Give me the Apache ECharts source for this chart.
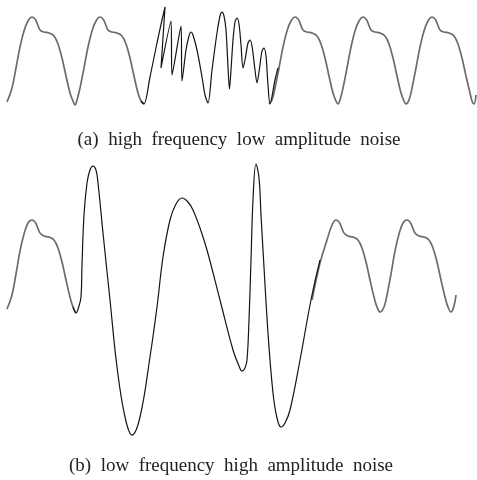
<!DOCTYPE html>
<html>
<head>
<meta charset="utf-8">
<script src="https://cdn.jsdelivr.net/npm/echarts@6/dist/echarts.min.js"></script>
<style>
html,body{margin:0;padding:0;background:#fff;}
#chart{width:477px;height:480px;}
</style>
</head>
<body>
<div id="chart"></div>
<script>
// ---- Panel (a): high frequency low amplitude noise ----
// time (samples) and amplitude
var aClean1T = [0,5,9,13,17,21,25,28,30,33,37,42,47,51,55,59,63,66,68,70,73,77,81,85,89,93,96,98,101,105,110,115,119,123,127,131,134,137];
var aClean1V = [0.02,0.16,0.36,0.57,0.73,0.83,0.87,0.85,0.81,0.74,0.72,0.71,0.68,0.60,0.46,0.28,0.11,0.03,-0.01,0.04,0.16,0.36,0.57,0.73,0.83,0.87,0.85,0.81,0.74,0.72,0.71,0.68,0.60,0.46,0.28,0.11,0.03,0.00];
var aNoiseT = [134,137,143,150,155,158,154,164,165,174,175,179,182,184,186,190,195,198,201,205,210,213,215,217,219,221,222.5,224,226,228,230,232,234,236,238,241,243,245,248,250,252,255,257,259,261,263,268,271];
var aNoiseV = [0.03,0.00,0.27,0.61,0.84,0.97,0.36,0.83,0.29,0.78,0.23,0.54,0.68,0.72,0.69,0.54,0.27,0.09,0.01,0.34,0.71,0.88,0.92,0.88,0.74,0.37,0.15,0.34,0.64,0.82,0.86,0.80,0.59,0.36,0.44,0.61,0.64,0.58,0.34,0.21,0.32,0.53,0.56,0.48,0.19,0.00,0.24,0.36];
var aClean2T = [262,265,268,272,276,280,284,288,291,293,296,300,305,310,314,318,322,326,329,331,333,336,340,344,348,352,356,359,361,364,368,373,378,382,386,390,394,397,399,402,405,409,413,417,421,425,428,430,433,437,442,447,451,455,459,463,465,467,469];
var aClean2V = [0.00,0.04,0.16,0.36,0.57,0.73,0.83,0.87,0.85,0.81,0.74,0.72,0.71,0.68,0.60,0.46,0.28,0.11,0.03,0.00,0.04,0.16,0.36,0.57,0.73,0.83,0.87,0.85,0.81,0.74,0.72,0.71,0.68,0.60,0.46,0.28,0.11,0.03,0.00,0.04,0.16,0.36,0.57,0.73,0.83,0.87,0.85,0.81,0.74,0.72,0.71,0.68,0.60,0.46,0.28,0.11,0.03,0.00,0.09];

// ---- Panel (b): low frequency high amplitude noise ----
var bClean1T = [0,5,9,13,17,21,25,28,30,33,37,42,47,51,55,59,63,66,69];
var bClean1V = [0.03,0.17,0.38,0.61,0.78,0.89,0.92,0.90,0.86,0.79,0.76,0.75,0.72,0.64,0.50,0.32,0.15,0.05,-0.01];
var bNoiseT = [66,69,72,74,75,77,80,83,86,89,91,96,103,110,118,125,133,143,150,156,163,169,175,181,186,193,200,213,226,232,235,238,240,242,244,246,249,252,254,256,261,266,270,274,278,283,293,304,313];
var bNoiseV = [0.05,-0.01,0.06,0.15,0.47,0.97,1.29,1.42,1.46,1.42,1.29,0.79,0.12,-0.55,-1.05,-1.23,-1.05,-0.45,0.05,0.55,0.92,1.08,1.14,1.10,1.02,0.84,0.62,0.12,-0.38,-0.54,-0.59,-0.56,-0.48,-0.08,0.52,1.12,1.48,1.34,0.97,0.62,-0.21,-0.81,-1.06,-1.15,-1.11,-0.98,-0.48,0.12,0.52];
var bClean2T = [305,313,320,325,329,332,334,337,341,346,351,355,359,363,367,370,373,377,380,384,388,392,396,400,403,405,408,412,417,422,426,430,434,438,441,444,447,449];
var bClean2V = [0.12,0.49,0.72,0.87,0.92,0.90,0.86,0.79,0.76,0.75,0.72,0.64,0.50,0.32,0.15,0.05,0.00,0.05,0.17,0.38,0.61,0.78,0.89,0.92,0.90,0.86,0.79,0.76,0.75,0.72,0.64,0.50,0.32,0.15,0.05,0.00,0.06,0.17];

var captionA = '(a)  high  frequency  low  amplitude  noise';
var captionB = '(b)  low  frequency  high  amplitude  noise';

function zip(t, v){ return t.map(function(x,i){ return [x, v[i]]; }); }

var GRAY = '#6c6c6c', BLACK = '#141414';
function ser(name, t, v, grid, color, width, smooth){
  return {
    name: name, type: 'line', xAxisIndex: grid, yAxisIndex: grid,
    data: zip(t, v), showSymbol: false, symbol: 'none', smooth: smooth,
    lineStyle: {color: color, width: width}, silent: true, z: color===BLACK?3:2
  };
}

var chart = echarts.init(document.getElementById('chart'), null, {renderer:'canvas'});
chart.setOption({
  animation: false,
  backgroundColor: '#ffffff',
  grid: [
    {left: 7, width: 470, top: 4, height: 110},
    {left: 7, width: 470, top: 152, height: 290}
  ],
  xAxis: [
    {type:'value', gridIndex:0, min:0, max:470, show:false},
    {type:'value', gridIndex:1, min:0, max:470, show:false}
  ],
  yAxis: [
    {type:'value', gridIndex:0, min:-0.1, max:1.0, show:false},
    {type:'value', gridIndex:1, min:-1.3, max:1.6, show:false}
  ],
  series: [
    ser('a-clean-1', aClean1T, aClean1V, 0, GRAY, 1.7, 0.4),
    ser('a-noise', aNoiseT, aNoiseV, 0, BLACK, 1.2, 0.3),
    ser('a-clean-2', aClean2T, aClean2V, 0, GRAY, 1.7, 0.4),
    ser('b-clean-1', bClean1T, bClean1V, 1, GRAY, 1.7, 0.4),
    ser('b-noise', bNoiseT, bNoiseV, 1, BLACK, 1.2, 0.4),
    ser('b-clean-2', bClean2T, bClean2V, 1, GRAY, 1.7, 0.4)
  ],
  graphic: [
    {type:'text', x:239, y:131, style:{text:captionA, align:'center', verticalAlign:'top', font:'19px "Liberation Serif", serif', fill:'#222'}},
    {type:'text', x:231, y:457, style:{text:captionB, align:'center', verticalAlign:'top', font:'19px "Liberation Serif", serif', fill:'#222'}}
  ]
});
</script>
</body>
</html>
